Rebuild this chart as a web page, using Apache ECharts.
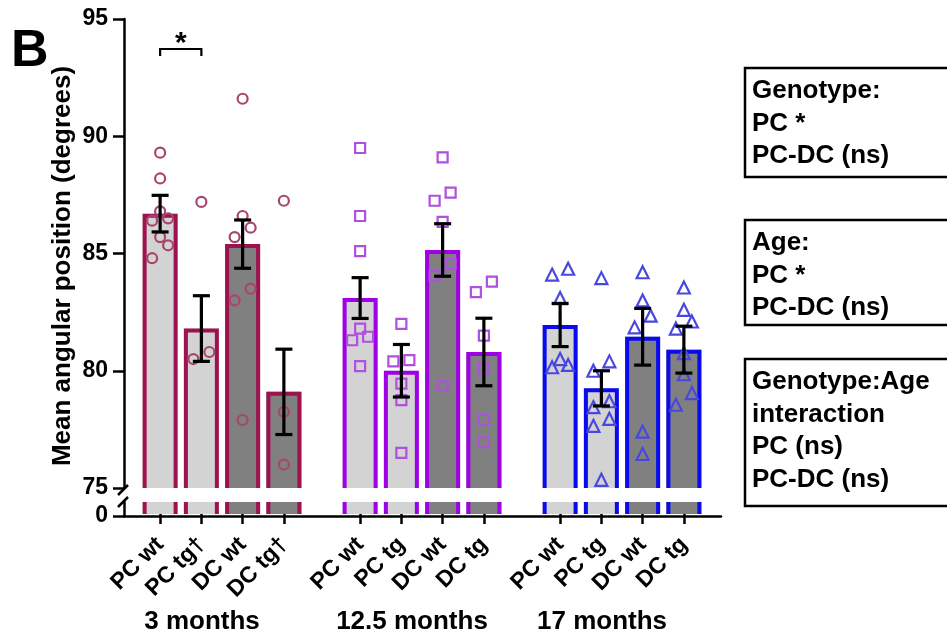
<!DOCTYPE html>
<html><head><meta charset="utf-8">
<script src="https://cdn.jsdelivr.net/npm/echarts@6/dist/echarts.min.js"></script>
<style>html,body{margin:0;padding:0;background:#fff}#c{width:947px;height:636px}</style>
</head><body><div id="c"></div>
<script>
// ---------- data ----------
const ages = ['3 months', '12.5 months', '17 months'];
const barLabels3 = ['PC wt', 'PC tg\u2020', 'DC wt', 'DC tg\u2020'];
const barLabels12 = ['PC wt', 'PC tg', 'DC wt', 'DC tg'];
const barLabels17 = ['PC wt', 'PC tg', 'DC wt', 'DC tg'];
const yTicks = [75, 80, 85, 90, 95];

const means3 = [86.7, 81.8, 85.4, 79.1];
const means12 = [83.1, 80.0, 85.15, 80.8];
const means17 = [81.95, 79.25, 81.45, 80.9];

const sem3 = [0.78, 1.4, 1.03, 1.82];
const sem12 = [0.87, 1.12, 1.12, 1.44];
const sem17 = [0.92, 0.75, 1.21, 1.0];

const points3 = [
  [89.3, 88.2, 86.8, 86.5, 86.4, 85.7, 85.35, 84.8],
  [87.2, 80.8, 80.5],
  [91.6, 86.6, 86.1, 85.7, 83.5, 83.0, 77.9],
  [87.25, 78.25, 76.0]
];
const points12 = [
  [89.5, 86.6, 85.1, 81.8, 81.45, 81.3, 80.2],
  [82.0, 80.45, 80.4, 79.45, 78.75, 76.5],
  [89.1, 87.6, 87.25, 86.35, 84.55, 84.05, 79.35],
  [83.8, 83.35, 81.5, 80.1, 77.9, 76.95]
];
const points17 = [
  [84.35, 84.1, 83.1, 80.5, 80.25, 80.15],
  [83.95, 80.4, 80.0, 78.7, 78.45, 77.95, 77.65, 75.35],
  [84.2, 83.0, 82.35, 81.85, 77.4, 76.45],
  [83.55, 82.6, 82.1, 81.8, 80.75, 79.85, 79.05, 78.55]
];
// significance bracket: from bar index, to bar index, y level (3 months group)
const sigBracket = [[0, 1, 93.72]];
const sigText = '*';

const boxTexts = [
  ['Genotype:', 'PC *', 'PC-DC (ns)'],
  ['Age:', 'PC *', 'PC-DC (ns)'],
  ['Genotype:Age', 'interaction', 'PC (ns)', 'PC-DC (ns)']
];

// ---------- styling / layout ----------
const FONT = '"Liberation Sans", Arial, Helvetica, sans-serif';
const groups = [
  {labels: barLabels3, means: means3, sems: sem3, points: points3},
  {labels: barLabels12, means: means12, sems: sem12, points: points12},
  {labels: barLabels17, means: means17, sems: sem17, points: points17}
];
const groupColors = ['#9E1250', '#A000E6', '#0A0AEE'];
const pointColors = ['#A6466F', '#B04FE0', '#4848DE'];
const symbols = ['circle', 'rect', 'triangle'];
const symbolSizes = [10, 10, 12];
const fills = ['#D3D3D3', '#D3D3D3', '#808080', '#808080'];
const namePad = [40, 20, 40];

const UP_TOP = 19, UP_H = 469, LO_TOP = 502, LO_H = 14;
const AX_LEFT = 124, AX_W = 597;
const G_LEFT = 139.5, G_STEP = 200, G_W = 165;

// Prism-like row jitter: points close in value share a row and are spread sideways
function swarm(vals, thr) {
  const idx = vals.map((v, j) => j).sort((a, b) => vals[a] - vals[b]);
  const slots = new Array(vals.length).fill(0);
  let row = [];
  const flush = () => {
    if (row.length === 2) { slots[row[0]] = -1; slots[row[1]] = 1; }
    else if (row.length === 3) { slots[row[0]] = -1; slots[row[1]] = 1; slots[row[2]] = 0; }
    else if (row.length > 3) { row.forEach((j, n) => { slots[j] = n - (row.length - 1) / 2; }); }
    row = [];
  };
  idx.forEach(j => {
    if (row.length && vals[j] - vals[row[0]] >= thr) flush();
    row.push(j);
  });
  flush();
  return slots;
}

function makeBarRender(k, lower) {
  return function (params, api) {
    const cs = params.coordSys;
    const i = api.value(0), v = api.value(1);
    const c = api.coord([i, v]);
    const bw = api.size([1, 0])[0] * 0.848;
    const bottom = cs.y + cs.height;
    const top = Math.max(c[1], cs.y);
    const L = c[0] - bw / 2, R = c[0] + bw / 2, h = 2;
    const stroke = {stroke: groupColors[k], lineWidth: 4, fill: null};
    const kids = [{type: 'rect', shape: {x: L, y: top, width: bw, height: bottom - top}, style: {fill: fills[i]}}];
    if (lower) {
      kids.push({type: 'line', shape: {x1: L + h, y1: top, x2: L + h, y2: bottom}, style: stroke});
      kids.push({type: 'line', shape: {x1: R - h, y1: top, x2: R - h, y2: bottom}, style: stroke});
    } else {
      kids.push({type: 'polyline', shape: {points: [[L + h, bottom], [L + h, top + h], [R - h, top + h], [R - h, bottom]]}, style: stroke});
    }
    return {type: 'group', children: kids};
  };
}

function errRender(params, api) {
  const i = api.value(0), m = api.value(1), s = api.value(2);
  const hi = api.coord([i, m + s]), lo = api.coord([i, m - s]);
  const cw = 8.5;
  const st = {stroke: '#000', lineWidth: 3.2, fill: null};
  return {type: 'group', children: [
    {type: 'line', shape: {x1: hi[0], y1: hi[1], x2: lo[0], y2: lo[1]}, style: st},
    {type: 'line', shape: {x1: hi[0] - cw, y1: hi[1], x2: hi[0] + cw, y2: hi[1]}, style: st},
    {type: 'line', shape: {x1: lo[0] - cw, y1: lo[1], x2: lo[0] + cw, y2: lo[1]}, style: st}
  ]};
}

function sigRender(params, api) {
  const a = api.coord([api.value(0), api.value(2)]);
  const b = api.coord([api.value(1), api.value(2)]);
  const drop = 7;
  return {type: 'group', children: [
    {type: 'polyline', shape: {points: [[a[0], a[1] + drop], [a[0], a[1]], [b[0], b[1]], [b[0], b[1] + drop]]},
     style: {stroke: '#000', lineWidth: 2.2, fill: null}},
    {type: 'text', style: {text: sigText, x: (a[0] + b[0]) / 2, y: a[1] - 5, align: 'center', verticalAlign: 'middle',
      font: 'bold 30px ' + FONT, fill: '#000'}}
  ]};
}

const grid = [
  {left: AX_LEFT, top: UP_TOP, width: AX_W, height: UP_H},
  {left: AX_LEFT, top: LO_TOP, width: AX_W, height: LO_H}
];
const xAxis = [
  {gridIndex: 0, type: 'category', data: [''], show: false},
  {gridIndex: 1, type: 'category', data: [''], z: 10,
   axisLine: {show: true, lineStyle: {color: '#000', width: 2.5}}, axisTick: {show: false}, axisLabel: {show: false}}
];
const yAxis = [
  {gridIndex: 0, type: 'value', min: yTicks[0], max: yTicks[yTicks.length - 1], interval: 5,
   axisLine: {show: true, lineStyle: {color: '#000', width: 2.5}},
   axisTick: {show: true, length: 11, lineStyle: {color: '#000', width: 2.5}},
   axisLabel: {margin: 16, fontSize: 23, fontWeight: 'bold', color: '#000', fontFamily: FONT},
   splitLine: {show: false}},
  {gridIndex: 1, type: 'value', min: 0, max: 1, interval: 1,
   axisLine: {show: true, lineStyle: {color: '#000', width: 2.5}},
   axisTick: {show: true, length: 11, customValues: [0], lineStyle: {color: '#000', width: 2.5}},
   axisLabel: {margin: 16, fontSize: 23, fontWeight: 'bold', color: '#000', fontFamily: FONT,
     customValues: [0], formatter: v => (v === 0 ? '0' : '')},
   splitLine: {show: false}}
];
const series = [];

groups.forEach((g, k) => {
  grid.push({left: G_LEFT + G_STEP * k, top: UP_TOP, width: G_W, height: UP_H});
});
groups.forEach((g, k) => {
  grid.push({left: G_LEFT + G_STEP * k, top: LO_TOP, width: G_W, height: LO_H});
});
groups.forEach((g, k) => {
  xAxis.push({gridIndex: 2 + k, type: 'category', data: g.labels, show: false});
  yAxis.push({gridIndex: 2 + k, type: 'value', min: yTicks[0], max: yTicks[yTicks.length - 1], show: false});
});
groups.forEach((g, k) => {
  xAxis.push({gridIndex: 5 + k, type: 'category', data: g.labels,
    axisLine: {show: false},
    axisTick: {show: true, alignWithLabel: true, length: 10, lineStyle: {color: '#000', width: 2.5}},
    axisLabel: {interval: 0, rotate: 45, margin: 27, fontSize: 23, fontWeight: 'bold', color: '#000', fontFamily: FONT},
    name: ages[k], nameLocation: 'middle', nameGap: 95,
    nameTextStyle: {fontSize: 26, fontWeight: 'bold', color: '#000', fontFamily: FONT, padding: [0, namePad[k], 0, 0]}});
  yAxis.push({gridIndex: 5 + k, type: 'value', min: 0, max: 1, show: false});
});

groups.forEach((g, k) => {
  const barData = g.means.map((m, i) => [i, m]);
  series.push({type: 'custom', xAxisIndex: 2 + k, yAxisIndex: 2 + k, renderItem: makeBarRender(k, false),
    data: barData, encode: {x: 0, y: 1}, z: 1, silent: true});
  series.push({type: 'custom', xAxisIndex: 5 + k, yAxisIndex: 5 + k, renderItem: makeBarRender(k, true),
    data: barData, encode: {x: 0, y: 1}, z: 1, silent: true});
  const pts = [];
  g.points.forEach((vals, i) => {
    const slots = swarm(vals, 0.7);
    vals.forEach((v, j) => pts.push({value: [i, v], symbolOffset: [slots[j] * 8, 0]}));
  });
  series.push({type: 'scatter', xAxisIndex: 2 + k, yAxisIndex: 2 + k, data: pts,
    symbol: symbols[k], symbolSize: symbolSizes[k], z: 3, silent: true,
    itemStyle: {color: 'rgba(0,0,0,0)', borderColor: pointColors[k], borderWidth: 2.2, opacity: 1}});
  series.push({type: 'custom', xAxisIndex: 2 + k, yAxisIndex: 2 + k, renderItem: errRender,
    data: g.means.map((m, i) => [i, m, g.sems[i]]), encode: {x: 0, y: 1}, z: 4, silent: true});
});
series.push({type: 'custom', xAxisIndex: 2, yAxisIndex: 2, renderItem: sigRender, data: sigBracket,
  encode: {x: [0, 1], y: 2}, z: 5, silent: true});

// ---------- graphic decorations ----------
const graphic = [
  {type: 'text', left: 11, top: 26, style: {text: 'B', font: 'bold 52px ' + FONT, fill: '#000'}},
  {type: 'text', x: 63, y: 266, rotation: Math.PI / 2,
   style: {text: 'Mean angular position (degrees)', font: 'bold 26px ' + FONT, fill: '#000', align: 'center', verticalAlign: 'middle'}},
  {type: 'line', shape: {x1: 118, y1: 495, x2: 128, y2: 485}, style: {stroke: '#000', lineWidth: 2.5}},
  {type: 'line', shape: {x1: 118, y1: 507, x2: 128, y2: 497}, style: {stroke: '#000', lineWidth: 2.5}}
];
const boxLayout = [{top: 68, h: 109}, {top: 220, h: 105}, {top: 359, h: 147}];
boxTexts.forEach((lines, b) => {
  const bl = boxLayout[b];
  graphic.push({type: 'rect', shape: {x: 745, y: bl.top, width: 240, height: bl.h},
    style: {fill: '#fff', stroke: '#000', lineWidth: 2.5}});
  graphic.push({type: 'text', x: 752, y: bl.top + 7,
    style: {text: lines.join('\n'), font: 'bold 26px ' + FONT, lineHeight: 32.5, fill: '#000', align: 'left', verticalAlign: 'top'}});
});

const chart = echarts.init(document.getElementById('c'));
chart.setOption({
  animation: false,
  backgroundColor: '#fff',
  grid, xAxis, yAxis, series, graphic
});
</script></body></html>
